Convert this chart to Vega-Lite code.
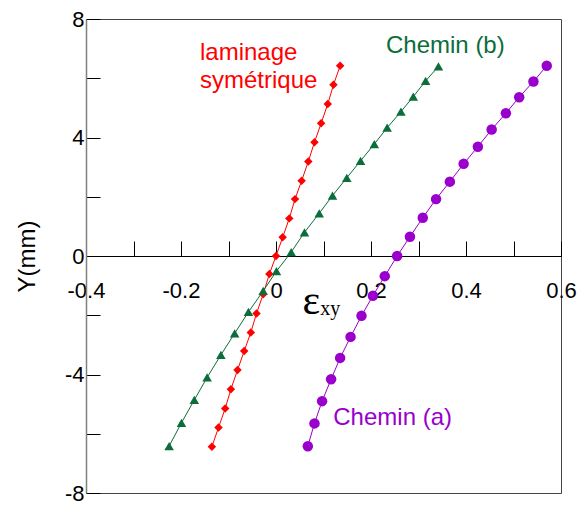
{
  "$schema": "https://vega.github.io/schema/vega-lite/v6.json",
  "width": 475,
  "height": 474,
  "autosize": {"type": "none"},
  "padding": {"left": 86, "top": 19, "right": 21, "bottom": 15},
  "background": "white",
  "config": {
    "view": {"stroke": "#444", "strokeWidth": 1},
    "font": "Liberation Sans"
  },
  "datasets": {
    "curves": [
      {"serie": "sym", "x": 0.135, "y": 6.42},
      {"serie": "sym", "x": 0.121, "y": 5.78},
      {"serie": "sym", "x": 0.109, "y": 5.13},
      {"serie": "sym", "x": 0.095, "y": 4.48},
      {"serie": "sym", "x": 0.081, "y": 3.84},
      {"serie": "sym", "x": 0.068, "y": 3.19},
      {"serie": "sym", "x": 0.054, "y": 2.54},
      {"serie": "sym", "x": 0.040, "y": 1.92},
      {"serie": "sym", "x": 0.028, "y": 1.27},
      {"serie": "sym", "x": 0.014, "y": 0.63},
      {"serie": "sym", "x": 0.000, "y": 0.0},
      {"serie": "sym", "x": -0.014, "y": -0.61},
      {"serie": "sym", "x": -0.027, "y": -1.29},
      {"serie": "sym", "x": -0.041, "y": -1.94},
      {"serie": "sym", "x": -0.053, "y": -2.58},
      {"serie": "sym", "x": -0.067, "y": -3.21},
      {"serie": "sym", "x": -0.081, "y": -3.85},
      {"serie": "sym", "x": -0.095, "y": -4.50},
      {"serie": "sym", "x": -0.107, "y": -5.15},
      {"serie": "sym", "x": -0.121, "y": -5.79},
      {"serie": "sym", "x": -0.135, "y": -6.44},
      {"serie": "b", "x": 0.342, "y": 6.40},
      {"serie": "b", "x": 0.315, "y": 5.91},
      {"serie": "b", "x": 0.289, "y": 5.38},
      {"serie": "b", "x": 0.263, "y": 4.87},
      {"serie": "b", "x": 0.234, "y": 4.33},
      {"serie": "b", "x": 0.207, "y": 3.78},
      {"serie": "b", "x": 0.178, "y": 3.21},
      {"serie": "b", "x": 0.149, "y": 2.64},
      {"serie": "b", "x": 0.119, "y": 2.04},
      {"serie": "b", "x": 0.091, "y": 1.44},
      {"serie": "b", "x": 0.060, "y": 0.80},
      {"serie": "b", "x": 0.032, "y": 0.13},
      {"serie": "b", "x": 0.001, "y": -0.51},
      {"serie": "b", "x": -0.027, "y": -1.18},
      {"serie": "b", "x": -0.058, "y": -1.89},
      {"serie": "b", "x": -0.087, "y": -2.61},
      {"serie": "b", "x": -0.116, "y": -3.34},
      {"serie": "b", "x": -0.145, "y": -4.10},
      {"serie": "b", "x": -0.172, "y": -4.86},
      {"serie": "b", "x": -0.199, "y": -5.63},
      {"serie": "b", "x": -0.225, "y": -6.42},
      {"serie": "a", "x": 0.570, "y": 6.42},
      {"serie": "a", "x": 0.542, "y": 5.89},
      {"serie": "a", "x": 0.512, "y": 5.36},
      {"serie": "a", "x": 0.484, "y": 4.82},
      {"serie": "a", "x": 0.454, "y": 4.27},
      {"serie": "a", "x": 0.425, "y": 3.69},
      {"serie": "a", "x": 0.395, "y": 3.11},
      {"serie": "a", "x": 0.366, "y": 2.51},
      {"serie": "a", "x": 0.337, "y": 1.92},
      {"serie": "a", "x": 0.309, "y": 1.29},
      {"serie": "a", "x": 0.282, "y": 0.65},
      {"serie": "a", "x": 0.255, "y": 0.0},
      {"serie": "a", "x": 0.229, "y": -0.68},
      {"serie": "a", "x": 0.204, "y": -1.34},
      {"serie": "a", "x": 0.180, "y": -2.02},
      {"serie": "a", "x": 0.157, "y": -2.73},
      {"serie": "a", "x": 0.135, "y": -3.44},
      {"serie": "a", "x": 0.116, "y": -4.16},
      {"serie": "a", "x": 0.097, "y": -4.90},
      {"serie": "a", "x": 0.081, "y": -5.65},
      {"serie": "a", "x": 0.067, "y": -6.42}
    ],
    "labels": [
      {"serie": "sym", "x": -0.16, "y": 6.62, "text": "laminage"},
      {"serie": "sym", "x": -0.16, "y": 5.67, "text": "symétrique"},
      {"serie": "b", "x": 0.2316, "y": 6.85, "text": "Chemin (b)"},
      {"serie": "a", "x": 0.1206, "y": -5.71, "text": "Chemin (a)"}
    ],
    "sub": [
      {"x": 0.093, "y": -2.0, "text": "xy"}
    ]
  },
  "layer": [
    {
      "data": {"name": "curves"},
      "mark": {"type": "line", "strokeWidth": 1},
      "encoding": {
        "x": {
          "field": "x", "type": "quantitative",
          "scale": {"domain": [-0.4, 0.6], "nice": false, "zero": false},
          "axis": {
            "orient": "bottom",
            "offset": -237,
            "values": [-0.4, -0.3, -0.2, -0.1, 0, 0.1, 0.2, 0.3, 0.4, 0.5, 0.6],
            "tickSize": -15,
            "tickColor": "black",
            "tickWidth": 1,
            "domainColor": "black",
            "domainWidth": 1,
            "grid": false,
            "labelExpr": "abs(round(datum.value*10)) % 2 == 0 ? (datum.value < -0.001 ? '-' : '') + (abs(datum.value) < 0.001 ? '0' : format(abs(datum.value), '.1f')) : ''",
            "labelFontSize": 22,
            "labelColor": "black",
            "labelPadding": 39,
            "labelFlush": false,
            "labelOverlap": false,
            "title": "ε",
            "titleFont": "Liberation Serif",
            "titleFontSize": 42,
            "titleFontWeight": "normal",
            "titleColor": "black",
            "titleX": 216,
            "titleY": 57,
            "titleAlign": "left",
            "titleBaseline": "alphabetic"
          }
        },
        "y": {
          "field": "y", "type": "quantitative",
          "scale": {"domain": [-8, 8], "nice": false, "zero": false},
          "axis": {
            "orient": "left",
            "values": [-8, -6, -4, -2, 0, 2, 4, 6, 8],
            "tickSize": -14,
            "tickColor": "black",
            "tickWidth": 1,
            "domainColor": "#808080",
            "domainWidth": 1.5,
            "grid": false,
            "labelExpr": "datum.value % 4 == 0 ? (datum.value < 0 ? '-' : '') + abs(datum.value) : ''",
            "labelFontSize": 22,
            "labelColor": "black",
            "labelPadding": 16,
            "labelFlush": false,
            "labelOverlap": false,
            "title": "Y(mm)",
            "titleFont": "Liberation Sans",
            "titleFontSize": 24,
            "titleFontWeight": "normal",
            "titleColor": "black",
            "titleX": -59,
            "titleY": 237,
            "titleAngle": 270,
            "titleAlign": "center",
            "titleBaseline": "middle"
          }
        },
        "color": {
          "field": "serie", "type": "nominal",
          "scale": {"domain": ["sym", "b", "a"], "range": ["#ff0000", "#0b6e3a", "#9900cc"]},
          "legend": null
        },
        "order": {"field": "y", "type": "quantitative"}
      }
    },
    {
      "data": {"name": "curves"},
      "mark": {"type": "point", "filled": true, "opacity": 1},
      "encoding": {
        "x": {"field": "x", "type": "quantitative"},
        "y": {"field": "y", "type": "quantitative"},
        "color": {"field": "serie", "type": "nominal", "legend": null},
        "shape": {
          "field": "serie", "type": "nominal",
          "scale": {"domain": ["sym", "b", "a"], "range": ["diamond", "triangle-up", "circle"]},
          "legend": null
        },
        "size": {
          "field": "serie", "type": "nominal",
          "scale": {"domain": ["sym", "b", "a"], "range": [72, 110, 80]},
          "legend": null
        }
      }
    },
    {
      "data": {"name": "labels"},
      "mark": {"type": "text", "align": "left", "baseline": "alphabetic", "fontSize": 24, "font": "Liberation Sans"},
      "encoding": {
        "x": {"field": "x", "type": "quantitative"},
        "y": {"field": "y", "type": "quantitative"},
        "text": {"field": "text"},
        "color": {"field": "serie", "type": "nominal", "legend": null}
      }
    },
    {
      "data": {"name": "sub"},
      "mark": {"type": "text", "align": "left", "baseline": "alphabetic", "fontSize": 20, "font": "Liberation Serif", "color": "black"},
      "encoding": {
        "x": {"field": "x", "type": "quantitative"},
        "y": {"field": "y", "type": "quantitative"},
        "text": {"field": "text"}
      }
    }
  ]
}
